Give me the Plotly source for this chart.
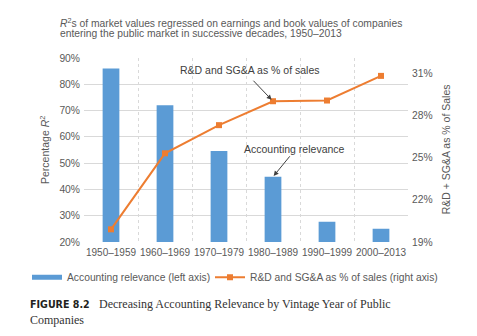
import plotly.graph_objects as go

# Decades of public-market entry
decades = ["1950–1959", "1960–1969", "1970–1979", "1980–1989", "1990–1999", "2000–2013"]
# R² of market values on earnings and book values (left axis, %)
accounting_relevance = [86, 72, 54.6, 44.8, 27.7, 25]
# R&D + SG&A as % of sales (right axis, %)
rd_sga_share = [19.9, 25.3, 27.3, 29.0, 29.05, 30.8]

left_ticks = [20, 30, 40, 50, 60, 70, 80, 90]
right_ticks = [19, 22, 25, 28, 31]

BLUE = "#5B9BD5"
ORANGE = "#ED7D31"
GRAY = "#595959"
GRID = "#D9D9D9"
SANS = "Liberation Sans, Arial, sans-serif"

fig = go.Figure()

fig.add_trace(go.Bar(
    x=decades, y=accounting_relevance, yaxis="y",
    marker=dict(color=BLUE, line=dict(width=0)),
    showlegend=False, hoverinfo="skip",
))
# legend entry for the bars, drawn as a thick line swatch
fig.add_trace(go.Scatter(
    x=[None], y=[None], mode="lines",
    line=dict(color=BLUE, width=5),
    name="Accounting relevance (left axis)", legend="legend",
))
fig.add_trace(go.Scatter(
    x=decades, y=rd_sga_share, yaxis="y2",
    mode="lines+markers",
    line=dict(color=ORANGE, width=2),
    marker=dict(symbol="square", size=6, color=ORANGE),
    name="R&D and SG&A as % of sales (right axis)", legend="legend2",
))

annotations = [
    # chart heading
    dict(text="<i>R</i><sup>2</sup>s of market values regressed on earnings and book values of companies",
         xref="paper", yref="paper", x=-0.08, y=1.195, xanchor="left", yanchor="middle",
         showarrow=False, font=dict(family=SANS, size=10.3, color=GRAY)),
    dict(text="entering the public market in successive decades, 1950–2013",
         xref="paper", yref="paper", x=-0.08, y=1.135, xanchor="left", yanchor="middle",
         showarrow=False, font=dict(family=SANS, size=10.3, color=GRAY)),
    # axis titles
    dict(text="Percentage <i>R</i><sup>2</sup>", xref="paper", yref="paper", x=-0.1235, y=0.5,
         xanchor="center", yanchor="middle",
         textangle=-90, showarrow=False, font=dict(family=SANS, size=10.5, color=GRAY)),
    dict(text="R&D + SG&A as % of Sales", xref="paper", yref="paper", x=1.118, y=0.505,
         xanchor="center", yanchor="middle",
         textangle=-90, showarrow=False, font=dict(family=SANS, size=10.5, color=GRAY)),
    # series callouts
    dict(text="R&D and SG&A as % of sales", xref="x", yref="y", x=2.57, y=85.4,
         showarrow=False, font=dict(family=SANS, size=10.5, color="#404040")),
    dict(text="", xref="x", yref="y2", x=3, y=29.0, ax=-21, ay=-22,
         showarrow=True, arrowhead=2, arrowsize=1, arrowwidth=1, arrowcolor="#404040", standoff=2),
    dict(text="Accounting relevance", xref="x", yref="y", x=3.39, y=55.4,
         showarrow=False, font=dict(family=SANS, size=10.5, color="#404040")),
    dict(text="", xref="x", yref="y", x=3, y=accounting_relevance[3], ax=18, ay=-22,
         showarrow=True, arrowhead=2, arrowsize=1, arrowwidth=1, arrowcolor="#404040", standoff=1),
    # figure caption
    dict(text="<b>FIGURE 8.2</b>", xref="paper", yref="paper", x=-0.173, y=-0.338,
         xanchor="left", yanchor="middle", showarrow=False,
         font=dict(family="Liberation Sans Narrow, DejaVu Sans Condensed, Liberation Sans, sans-serif",
                   size=10.6, color="#231F20")),
    dict(text="Decreasing Accounting Relevance by Vintage Year of Public",
         xref="paper", yref="paper", x=0.04, y=-0.338, xanchor="left", yanchor="middle",
         showarrow=False, font=dict(family="Liberation Serif, Times New Roman, serif", size=12, color="#333333")),
    dict(text="Companies", xref="paper", yref="paper", x=-0.173, y=-0.425,
         xanchor="left", yanchor="middle",
         showarrow=False, font=dict(family="Liberation Serif, Times New Roman, serif", size=12, color="#333333")),
]

legend_style = dict(
    orientation="h", yanchor="middle", y=-0.192, xanchor="left",
    font=dict(family=SANS, size=10.3, color=GRAY), itemwidth=30,
    bgcolor="rgba(0,0,0,0)", borderwidth=0,
)

fig.update_layout(
    width=477, height=336,
    margin=dict(l=84, r=69, t=58, b=94),
    paper_bgcolor="white", plot_bgcolor="white",
    bargap=0.69,
    font=dict(family=SANS, size=10.5, color=GRAY),
    xaxis=dict(
        type="category", range=[-0.5, 5.5], tickson="boundaries",
        showgrid=True, gridcolor=GRID, griddash="dot", gridwidth=1,
        ticks="", showline=False, zeroline=False, tickangle=0,
        ticklabelstandoff=3,
        tickfont=dict(size=10, color=GRAY),
    ),
    yaxis=dict(
        range=[20, 90], tickvals=left_ticks, ticktext=[f"{v}%" for v in left_ticks],
        showgrid=True, gridcolor=GRID, gridwidth=1, zeroline=False,
        ticks="", tickfont=dict(size=10.3, color=GRAY), ticklabelstandoff=3,
    ),
    yaxis2=dict(
        range=[19, 32.07], tickvals=right_ticks, ticktext=[f"{v}%" for v in right_ticks],
        overlaying="y", side="right", showgrid=False, zeroline=False,
        ticks="", tickfont=dict(size=10.3, color=GRAY), ticklabelstandoff=3,
    ),
    legend=dict(legend_style, x=(27 - 84) / 324),
    legend2=dict(legend_style, x=(210 - 84) / 324),
    annotations=annotations,
)

fig.write_html("out.html")
